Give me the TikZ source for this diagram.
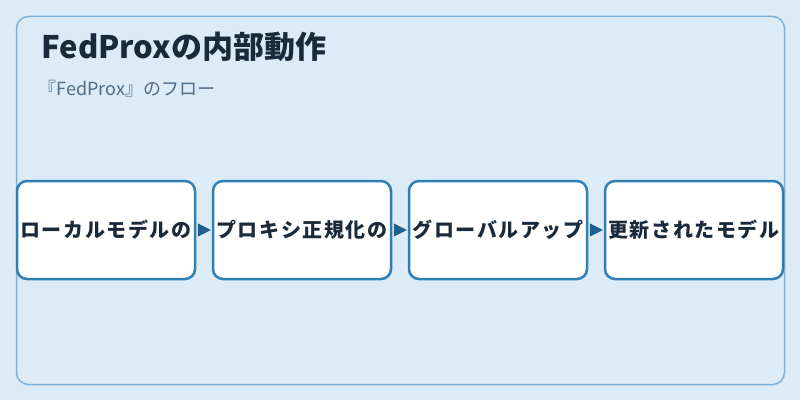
\documentclass[tikz,border=0pt]{standalone}
\usepackage{fontspec}
\setmainfont{Noto Sans CJK JP}
\newfontfamily\boxfont[LetterSpace=8]{Noto Sans CJK JP}
\usepackage{xcolor}
\usepackage{tikz}
\usetikzlibrary{arrows.meta}
\usetikzlibrary{positioning}

\definecolor{bgblue}{HTML}{DCEBF6}
\definecolor{framecol}{HTML}{7FB2D6}
\definecolor{boxcol}{HTML}{2F7FB6}
\definecolor{arrowcol}{HTML}{1F5F8B}
\definecolor{inkcol}{HTML}{1B2A3A}
\definecolor{subcol}{HTML}{4F6C86}

\begin{document}
\begin{tikzpicture}[x=1pt,y=1pt,-,auto,node distance=196pt, semithick]
  \tikzstyle{stepbox}=[draw=boxcol, line width=2.5pt, fill=white, rounded corners=10pt,
    minimum width=178pt, minimum height=98pt, inner sep=0pt, text=inkcol,
    font=\boxfont\bfseries\fontsize{20pt}{22pt}\selectfont]
  \tikzstyle{flow}=[draw=arrowcol, line width=0.5pt, shorten <=3pt, shorten >=1pt,
    -{Triangle[length=13pt,width=13pt]}]
  % background and frame
  \fill[bgblue] (0,0) rectangle (800,400);
  \draw[framecol, line width=1.5pt, rounded corners=12pt] (16.5,15.5) rectangle (784.5,383.5);
  \node[anchor=west, text=inkcol, font=\bfseries\fontsize{31pt}{35pt}\selectfont] (title) at (38,353) {FedProxの内部動作};
  \node[anchor=west, text=subcol, font=\fontsize{18pt}{21pt}\selectfont] (sub) at (35,311) {『FedProx』のフロー};

  \node[stepbox] (b1) at (106,170) {ローカルモデルの};
  \node[stepbox] (b2) [right of=b1] {プロキシ正規化の};
  \node[stepbox] (b3) [right of=b2] {グローバルアップ};
  \node[stepbox] (b4) [right of=b3] {更新されたモデル};

  \path
    (b1) edge[flow] (b2)
    (b2) edge[flow] (b3)
    (b3) edge[flow] (b4);
\end{tikzpicture}
\end{document}
